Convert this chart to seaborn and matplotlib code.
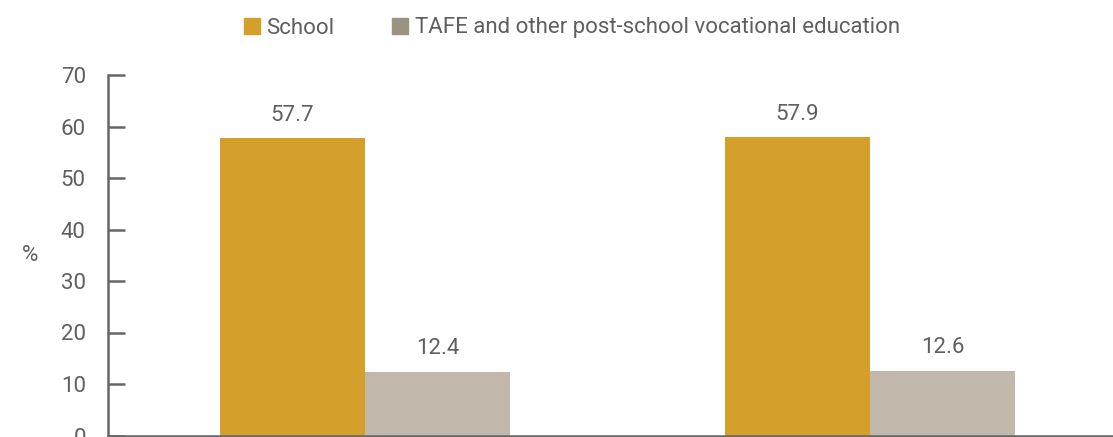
import matplotlib
matplotlib.use("Agg")
import matplotlib.pyplot as plt
import matplotlib.patches as mpatches
import seaborn as sns
import pandas as pd

groups = ["Group 1", "Group 2"]
series = ["School", "TAFE and other post-school vocational education"]
school = [57.7, 57.9]
tafe = [12.4, 12.6]
yticks = [0, 10, 20, 30, 40, 50, 60, 70]

bar_colors = ["#D4A02B", "#C1B7AB"]
legend_colors = ["#D4A02B", "#9B9282"]
text_color = "#5F5F5F"

df = pd.DataFrame({
    "group": groups * 2,
    "series": [series[0]] * 2 + [series[1]] * 2,
    "value": school + tafe,
})

sns.set_theme(style="white")
plt.rcParams["font.family"] = ["Roboto", "DejaVu Sans"]

fig = plt.figure(figsize=(11.13, 4.37), dpi=100)
ax = fig.add_axes([108 / 1113, 1.5 / 437, (1120 - 108) / 1113, (435.5 - 75) / 437])

sns.barplot(data=df, x="group", y="value", hue="series", hue_order=series,
            palette=bar_colors, width=0.575, saturation=1, ax=ax, legend=False,
            edgecolor="none", linewidth=0)

ax.set_ylim(0, 70)
ax.set_xlim(-0.509, 1.495)
ax.set_yticks(yticks)
ax.set_yticklabels([str(t) for t in yticks], fontsize=16, color=text_color)
ax.tick_params(axis="y", direction="in", length=12, width=1.8, color="#666666", pad=16, left=True)
ax.tick_params(axis="x", bottom=False, labelbottom=False)
ax.set_xlabel("")
ax.set_ylabel("%", rotation=0, fontsize=16, color=text_color, labelpad=22, va="center")
for s in ["top", "right"]:
    ax.spines[s].set_visible(False)
for s in ["left", "bottom"]:
    ax.spines[s].set_color("#666666")
    ax.spines[s].set_linewidth(1.8)

for cont in ax.containers:
    ax.bar_label(cont, fmt="%.1f", padding=9, fontsize=16, color=text_color)

handles = [mpatches.Patch(color=c, label=l) for c, l in zip(legend_colors, series)]
fig.legend(handles=handles, loc="center", bbox_to_anchor=(572 / 1113, 1 - 28 / 437),
           ncol=2, frameon=False, fontsize=16, handlelength=0.7, handleheight=0.7,
           handletextpad=0.3, columnspacing=2.6, labelcolor=text_color)

fig.savefig("out.png", dpi=100)
